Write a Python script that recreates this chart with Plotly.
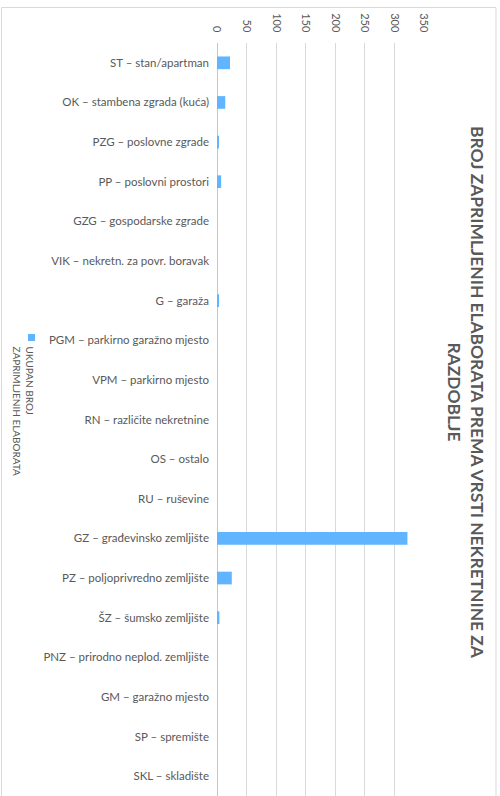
import plotly.graph_objects as go

categories = [
    "ST – stan/apartman",
    "OK – stambena zgrada (kuća)",
    "PZG – poslovne zgrade",
    "PP – poslovni prostori",
    "GZG – gospodarske zgrade",
    "VIK – nekretn. za povr. boravak",
    "G – garaža",
    "PGM – parkirno garažno mjesto",
    "VPM – parkirno mjesto",
    "RN – različite nekretnine",
    "OS – ostalo",
    "RU – ruševine",
    "GZ – građevinsko zemljište",
    "PZ – poljoprivredno zemljište",
    "ŠZ – šumsko zemljište",
    "PNZ – prirodno neplod. zemljište",
    "GM – garažno mjesto",
    "SP – spremište",
    "SKL – skladište",
]
values = [22, 14, 2, 7, 0, 0, 2, 0, 0, 0, 0, 0, 322, 25, 4, 0, 0, 0, 0]
x_ticks = [0, 50, 100, 150, 200, 250, 300, 350]

series_name = "UKUPAN BROJ ZAPRIMLJENIH ELABORATA"
title_text = "BROJ ZAPRIMLJENIH ELABORATA PREMA VRSTI NEKRETNINE ZA<br>RAZDOBLJE"
legend_text = "UKUPAN BROJ<br>ZAPRIMLJENIH ELABORATA"

BAR = "#61B4FF"
TXT = "#595959"
GRID = "#d9d9d9"
FONT = "Lato"

W, H = 500, 796
L, R, T, B = 217, 76, 43, 0
PW, PH = W - L - R, H - T - B


def px(x):
    return (x - L) / PW


def py(y):
    return (H - B - y) / PH


fig = go.Figure()
fig.add_trace(go.Bar(
    x=values, y=categories, orientation="h", name=series_name,
    marker=dict(color=BAR, line=dict(width=0)), width=0.32,
    showlegend=False,
))

fig.update_layout(
    width=W, height=H,
    margin=dict(l=L, r=R, t=T, b=B, autoexpand=False),
    paper_bgcolor="white", plot_bgcolor="white",
    font=dict(family=FONT, color=TXT, size=12),
    xaxis=dict(
        side="top", range=[0, 350], tickvals=x_ticks,
        tickangle=90, showgrid=True, gridcolor=GRID, gridwidth=1,
        zeroline=True, zerolinecolor="#c6c6c6", zerolinewidth=1,
        showline=False, ticks="", ticklabelstandoff=8,
        tickfont=dict(size=11, color=TXT, family=FONT),
        fixedrange=True,
    ),
    yaxis=dict(
        categoryorder="array", categoryarray=categories,
        autorange="reversed", showgrid=False, zeroline=False,
        showline=False, ticks="", ticklabelstandoff=7,
        tickfont=dict(size=11.5, color=TXT, family=FONT),
        fixedrange=True,
    ),
    bargap=0.68,
)

# outer chart border
fig.add_shape(type="rect", xref="paper", yref="paper",
              x0=px(1.5), x1=px(496), y0=py(800), y1=py(7.5),
              line=dict(color=GRID, width=1), fillcolor="rgba(0,0,0,0)",
              layer="below")

# title (rotated)
fig.add_annotation(text="<b>" + title_text + "</b>", textangle=90,
                   xref="paper", yref="paper", x=px(466), y=py(392),
                   xanchor="center", yanchor="middle", showarrow=False,
                   font=dict(size=17.4, color=TXT, family=FONT), align="center")

# legend (rotated)
fig.add_shape(type="rect", xref="paper", yref="paper",
              x0=px(28), x1=px(35), y0=py(341), y1=py(334),
              line=dict(width=0), fillcolor=BAR)
fig.add_annotation(text=legend_text, textangle=90,
                   xref="paper", yref="paper", x=px(23.5), y=py(344),
                   xanchor="center", yanchor="top", showarrow=False,
                   font=dict(size=10, color=TXT, family=FONT), align="left")

fig.write_html("out.html", config={"displayModeBar": False},
               post_script="document.body.style.margin='0';"
                           "document.body.style.overflow='hidden';")
